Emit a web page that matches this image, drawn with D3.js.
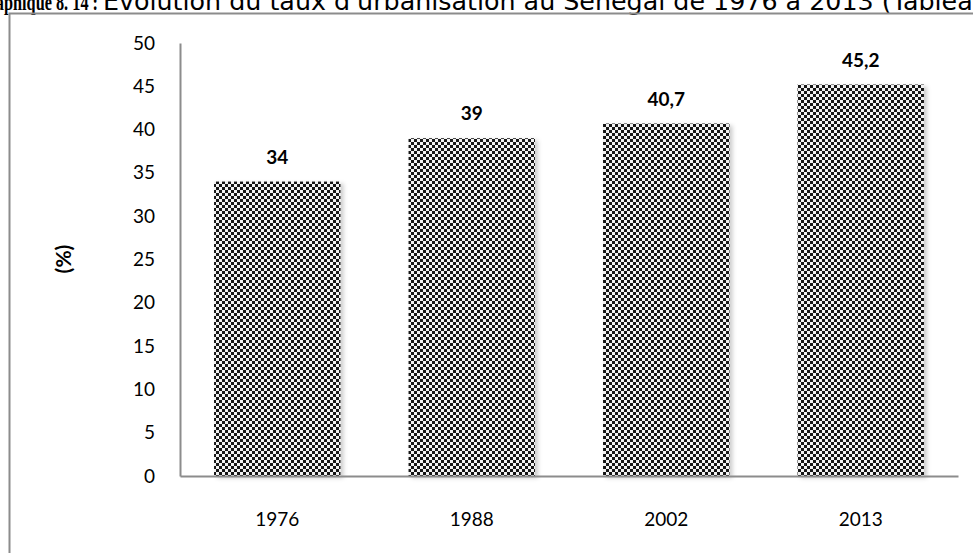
<!DOCTYPE html>
<html>
<head>
<meta charset="utf-8">
<script src="https://cdn.jsdelivr.net/npm/d3@7"></script>
<style>
  body { margin: 0; background: #fff; overflow: hidden; }
  svg { display: block; }
</style>
</head>
<body>
<div id="chart"></div>
<script>
// data
var years = ["1976", "1988", "2002", "2013"];
var rates = [34, 39, 40.7, 45.2];
var rateLabels = ["34", "39", "40,7", "45,2"];
var yTicks = [0, 5, 10, 15, 20, 25, 30, 35, 40, 45, 50];

var W = 973, H = 553;
var margin = { top: 43, right: 15, bottom: 77, left: 180 },
    width = 958 - margin.left,
    height = 476 - margin.top;

var svg = d3.select("#chart").append("svg")
    .attr("width", W).attr("height", H);

// checker pattern + shadow
var defs = svg.append("defs");
var pat = defs.append("pattern")
    .attr("id", "checker")
    .attr("patternUnits", "userSpaceOnUse")
    .attr("width", 6).attr("height", 6);
pat.append("rect").attr("width", 6).attr("height", 6).attr("fill", "#f2f2f2");
pat.append("rect").attr("width", 3).attr("height", 3).attr("fill", "#141414");
pat.append("rect").attr("x", 3).attr("y", 3).attr("width", 3).attr("height", 3).attr("fill", "#141414");

var f = defs.append("filter").attr("id", "shadow")
    .attr("x", "-10%").attr("y", "-10%").attr("width", "130%").attr("height", "130%");
f.append("feDropShadow").attr("dx", 3).attr("dy", 2).attr("stdDeviation", 2)
    .attr("flood-color", "#000").attr("flood-opacity", 0.2);

// title (cut off at the top and the sides like the original)
svg.append("text")
    .attr("x", -24).attr("y", 10)
    .attr("textLength", 122)
    .attr("lengthAdjust", "spacingAndGlyphs")
    .style("font-family", "'Liberation Serif', serif")
    .style("font-weight", "bold")
    .style("font-size", "23px")
    .text("Graphique 8. 14 :");

var tMain = "Évolution du taux d'urbanisation au Sénégal de 1976 à 2013 (Tableau 8.14)";
var tFit = "Évolution du taux d'urbanisation au Sénégal de 1976 à 2013 (Tablea";
var probe = svg.append("text")
    .style("font-family", "'DejaVu Sans', Verdana, sans-serif")
    .style("font-size", "20px")
    .text(tFit);
var fitSize = 20 * 870 / probe.node().getComputedTextLength();
probe.remove();
svg.append("text")
    .attr("x", 103).attr("y", 10)
    .style("font-family", "'DejaVu Sans', Verdana, sans-serif")
    .style("font-size", fitSize + "px")
    .text(tMain);

// outer frame
svg.append("rect")
    .attr("x", 9.5).attr("y", 13.5)
    .attr("width", 1000).attr("height", 600)
    .attr("fill", "none").attr("stroke", "#8c8c8c").attr("stroke-width", 2);

var g = svg.append("g")
    .attr("transform", "translate(" + margin.left + "," + margin.top + ")");

var x = d3.scaleBand().domain(years).range([0, width]).paddingInner(0.35).paddingOuter(0.175);
var y = d3.scaleLinear().domain([0, 50]).range([height, 0]);

// bars
g.selectAll("rect.bar")
    .data(rates)
    .enter().append("rect")
    .attr("class", "bar")
    .attr("x", function (d, i) { return x(years[i]); })
    .attr("y", function (d) { return y(d); })
    .attr("width", x.bandwidth())
    .attr("height", function (d) { return height - y(d); })
    .attr("fill", "url(#checker)")
    .attr("filter", "url(#shadow)");

// value labels
g.selectAll("text.val")
    .data(rates)
    .enter().append("text")
    .attr("class", "val")
    .attr("x", function (d, i) { return x(years[i]) + x.bandwidth() / 2; })
    .attr("y", function (d) { return y(d) - 18; })
    .attr("text-anchor", "middle")
    .style("font-family", "Lato, 'Open Sans', sans-serif")
    .style("font-weight", "bold")
    .style("font-size", "19px")
    .text(function (d, i) { return rateLabels[i]; });

// y axis
var yAxis = g.append("g")
    .call(d3.axisLeft(y).tickValues(yTicks).tickSize(0).tickPadding(25));
yAxis.select(".domain").attr("stroke", "#8c8c8c").attr("stroke-width", 2);
yAxis.selectAll("text")
    .style("font-family", "Lato, 'Open Sans', sans-serif")
    .style("font-size", "19px")
    .attr("fill", "#000");

// x axis
var xAxis = g.append("g")
    .attr("transform", "translate(0," + height + ")")
    .call(d3.axisBottom(x).tickSize(0).tickPadding(37));
xAxis.select(".domain").attr("stroke", "#8c8c8c").attr("stroke-width", 2);
xAxis.selectAll("text")
    .style("font-family", "Lato, 'Open Sans', sans-serif")
    .style("font-size", "19px")
    .attr("fill", "#000");

// y axis title
svg.append("text")
    .attr("transform", "translate(71,259) rotate(-90)")
    .attr("text-anchor", "middle")
    .style("font-family", "Lato, 'Open Sans', sans-serif")
    .style("font-weight", "bold")
    .style("font-size", "21px")
    .text("(%)");
</script>
</body>
</html>
